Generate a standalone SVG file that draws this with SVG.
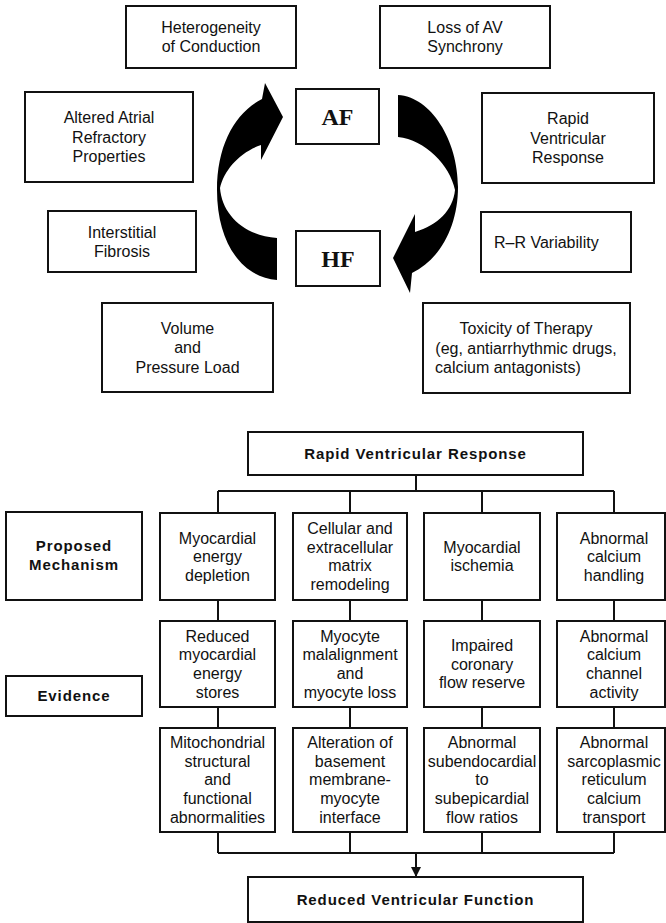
<svg xmlns="http://www.w3.org/2000/svg" width="666" height="923" viewBox="0 0 666 923">
<defs>
<style>
.box{fill:#fff;stroke:#111;stroke-width:2}
.t{font-family:"Liberation Sans",Arial,sans-serif;font-size:16px;fill:#111;text-anchor:middle}
.h{font-family:"Liberation Sans",Arial,sans-serif;font-size:15px;font-weight:bold;letter-spacing:0.9px;fill:#111;text-anchor:middle}
.s{font-family:"Liberation Serif","Times New Roman",serif;font-size:24px;font-weight:bold;fill:#111;text-anchor:middle}
.ln{fill:none;stroke:#111;stroke-width:2}
.arc{fill:#000;stroke:none}
</style>
<marker id="ah" viewBox="0 0 10 10" refX="9" refY="5" markerWidth="5" markerHeight="5" orient="auto" markerUnits="strokeWidth">
<path d="M0,0 L10,5 L0,10 Z" fill="#111"/>
</marker>
</defs>
<rect width="666" height="923" fill="#fff"/>

<g id="connectors">
<path class="arc" d="M277,280 C244,278 217,245 217,190 C217,145 235,113 262,99 L265,83 L283,117 L261,160 L261,145 C240,152 224,170 220,188 C222,215 245,236 277,238 Z"/>
<path class="arc" d="M398,95 C431,97 458,140 458,187 C458,225 441,259 412,273 L410,293 L393,258 L415,214 L415,232 C438,225 453,210 455,190 C450,165 425,140 398,137 Z"/>
<path class="ln" d="M416,475 V491 M218,491 H614 M218,491 V513 M350,491 V513 M482,491 V513 M614,491 V513"/>
<path class="ln" d="M218,600 V621 M350,600 V621 M482,600 V621 M614,600 V621"/>
<path class="ln" d="M218,707 V728 M350,707 V728 M482,707 V728 M614,707 V728"/>
<path class="ln" d="M218,832 V853 M350,832 V853 M482,832 V853 M614,832 V853 M218,853 H614"/>
<path class="ln" d="M416,853 V876" marker-end="url(#ah)"/>
</g>

<g id="heterogeneity"><rect class="box" x="126" y="6" width="170" height="62"/>
<text class="t" x="211" y="33">Heterogeneity</text><text class="t" x="211" y="52">of Conduction</text></g>
<g id="loss-av"><rect class="box" x="380" y="6" width="170" height="62"/>
<text class="t" x="465" y="33">Loss of AV</text><text class="t" x="465" y="52">Synchrony</text></g>
<g id="altered"><rect class="box" x="25" y="92" width="168" height="90"/>
<text class="t" x="109" y="123">Altered Atrial</text><text class="t" x="109" y="142.5">Refractory</text><text class="t" x="109" y="162">Properties</text></g>
<g id="af"><rect class="box" x="296" y="89" width="83" height="55"/>
<text class="s" x="337.5" y="125">AF</text></g>
<g id="rvr-top"><rect class="box" x="482" y="93" width="172" height="90"/>
<text class="t" x="568" y="124">Rapid</text><text class="t" x="568" y="143.5">Ventricular</text><text class="t" x="568" y="163">Response</text></g>
<g id="interstitial"><rect class="box" x="48" y="211" width="148" height="61"/>
<text class="t" x="122" y="237.5">Interstitial</text><text class="t" x="122" y="256.5">Fibrosis</text></g>
<g id="hf"><rect class="box" x="296" y="231" width="84" height="55"/>
<text class="s" x="338" y="267">HF</text></g>
<g id="rr"><rect class="box" x="481" y="212" width="150" height="60"/>
<text class="t" x="494" y="248" style="text-anchor:start">R–R Variability</text></g>
<g id="volume"><rect class="box" x="102" y="303" width="171" height="89"/>
<text class="t" x="187.5" y="333.5">Volume</text><text class="t" x="187.5" y="353">and</text><text class="t" x="187.5" y="372.5">Pressure Load</text></g>
<g id="toxicity"><rect class="box" x="423" y="303" width="207" height="90"/>
<text class="t" x="526" y="334">Toxicity of Therapy</text><text class="t" x="526" y="353.5">(eg, antiarrhythmic drugs,</text><text class="t" x="435" y="373" style="text-anchor:start">calcium antagonists)</text></g>

<g id="rvr"><rect class="box" x="248" y="432" width="335" height="43"/>
<text class="h" x="415.5" y="459">Rapid Ventricular Response</text></g>
<g id="proposed"><rect class="box" x="6" y="512" width="136" height="88"/>
<text class="h" x="74" y="551">Proposed</text><text class="h" x="74" y="570">Mechanism</text></g>
<g id="evidence"><rect class="box" x="6" y="676" width="136" height="40"/>
<text class="h" x="74" y="701">Evidence</text></g>

<g id="m1"><rect class="box" x="160" y="513" width="115" height="87"/>
<text class="t" x="217.5" y="543.5">Myocardial</text><text class="t" x="217.5" y="562">energy</text><text class="t" x="217.5" y="580.5">depletion</text></g>
<g id="m2"><rect class="box" x="293" y="513" width="114" height="87"/>
<text class="t" x="350" y="534">Cellular and</text><text class="t" x="350" y="552.7">extracellular</text><text class="t" x="350" y="571.4">matrix</text><text class="t" x="350" y="590">remodeling</text></g>
<g id="m3"><rect class="box" x="424" y="513" width="116" height="87"/>
<text class="t" x="482" y="552.7">Myocardial</text><text class="t" x="482" y="571.4">ischemia</text></g>
<g id="m4"><rect class="box" x="557" y="513" width="108" height="87"/>
<text class="t" x="614" y="543.5">Abnormal</text><text class="t" x="614" y="562">calcium</text><text class="t" x="614" y="580.5">handling</text></g>

<g id="e1"><rect class="box" x="160" y="621" width="115" height="86"/>
<text class="t" x="217.5" y="641.5">Reduced</text><text class="t" x="217.5" y="660.2">myocardial</text><text class="t" x="217.5" y="679">energy</text><text class="t" x="217.5" y="697.6">stores</text></g>
<g id="e2"><rect class="box" x="293" y="621" width="114" height="86"/>
<text class="t" x="350" y="641.5">Myocyte</text><text class="t" x="350" y="660.2">malalignment</text><text class="t" x="350" y="679">and</text><text class="t" x="350" y="697.6">myocyte loss</text></g>
<g id="e3"><rect class="box" x="424" y="621" width="116" height="86"/>
<text class="t" x="482" y="651">Impaired</text><text class="t" x="482" y="669.6">coronary</text><text class="t" x="482" y="688.3">flow reserve</text></g>
<g id="e4"><rect class="box" x="557" y="621" width="108" height="86"/>
<text class="t" x="614" y="641.5">Abnormal</text><text class="t" x="614" y="660.2">calcium</text><text class="t" x="614" y="679">channel</text><text class="t" x="614" y="697.6">activity</text></g>

<g id="f1"><rect class="box" x="160" y="728" width="115" height="104"/>
<text class="t" x="217.5" y="748">Mitochondrial</text><text class="t" x="217.5" y="766.7">structural</text><text class="t" x="217.5" y="785.4">and</text><text class="t" x="217.5" y="804">functional</text><text class="t" x="217.5" y="822.8">abnormalities</text></g>
<g id="f2"><rect class="box" x="293" y="728" width="114" height="104"/>
<text class="t" x="350" y="748">Alteration of</text><text class="t" x="350" y="766.7">basement</text><text class="t" x="350" y="785.4">membrane-</text><text class="t" x="350" y="804">myocyte</text><text class="t" x="350" y="822.8">interface</text></g>
<g id="f3"><rect class="box" x="424" y="728" width="116" height="104"/>
<text class="t" x="482" y="748">Abnormal</text><text class="t" x="482" y="766.7">subendocardial</text><text class="t" x="482" y="785.4">to</text><text class="t" x="482" y="804">subepicardial</text><text class="t" x="482" y="822.8">flow ratios</text></g>
<g id="f4"><rect class="box" x="557" y="728" width="108" height="104"/>
<text class="t" x="614" y="748">Abnormal</text><text class="t" x="614" y="766.7">sarcoplasmic</text><text class="t" x="614" y="785.4">reticulum</text><text class="t" x="614" y="804">calcium</text><text class="t" x="614" y="822.8">transport</text></g>

<g id="reduced"><rect class="box" x="248" y="877" width="335" height="45"/>
<text class="h" x="415.5" y="905">Reduced Ventricular Function</text></g>
</svg>
